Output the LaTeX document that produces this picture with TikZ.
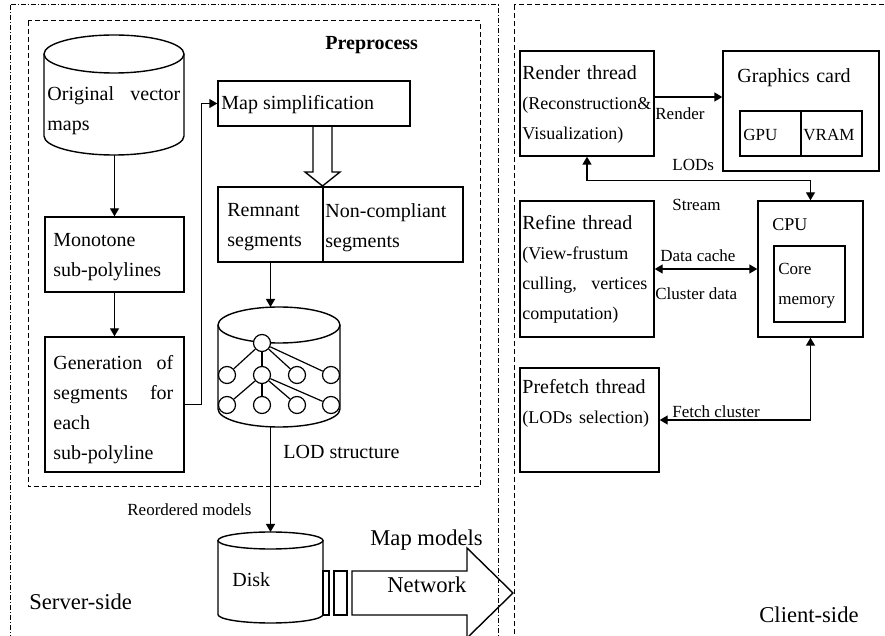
\documentclass[tikz,border=0pt]{standalone}
\usepackage{fontspec}
\setmainfont{Liberation Serif}
\usetikzlibrary{arrows.meta}

\newcommand\parsz{\fontsize{9}{15}\selectfont}

\tikzset{
  box/.style={draw, line width=0.7pt, inner sep=0pt},
  txt/.style={inner sep=0pt, anchor=north west, align=left, font=\fontsize{10}{15}\selectfont},
  lbl/.style={inner sep=0pt, anchor=west, font=\fontsize{8.5}{10}\selectfont},
  big/.style={inner sep=0pt, anchor=west, font=\fontsize{11.3}{13}\selectfont},
  conn/.style={line width=0.7pt, -{Triangle[length=4pt,width=4.5pt]}},
  both/.style={line width=0.7pt, {Triangle[length=4pt,width=4.5pt]}-{Triangle[length=4pt,width=4.5pt]}},
  tree/.style={draw, circle, fill=white, line width=0.6pt, minimum size=8.5pt, inner sep=0pt},
  dashbox/.style={line width=0.5pt, dash pattern=on 2.5pt off 1.5pt},
  dotbox/.style={line width=0.5pt, dash pattern=on 2.5pt off 1pt on 0.5pt off 1pt},
}

\begin{document}
\begin{tikzpicture}[x=0.5pt, y=-0.5pt]
  \clip (0,0) rectangle (885,636);
  \fill[white] (0,0) rectangle (885,636);

  % frames
  \draw[dotbox] (10,5) rectangle (498,660);
  \draw[dashbox] (28,21) rectangle (480,487);
  \draw[dashbox] (514,5) rectangle (900,660);
  \node[inner sep=0pt, anchor=west, font=\bfseries\fontsize{10}{12}\selectfont] (pre) at (325,45) {Preprocess};

  % server side
  \draw[line width=0.7pt] (114,54) ellipse[x radius=70, y radius=19];
  \draw[line width=0.7pt] (44,54) -- (44,136) arc[start angle=180, end angle=0, x radius=70, y radius=19] -- (184,54);
  \coordinate (orig-bot) at (114.5,155);
  \node[txt, text width=66.5pt] (orig) at (47,86) {Original \hfill vector\\maps};

  \node[box, minimum width=69.5pt, minimum height=37.5pt] (mono) at (114.5,254.5) {};
  \node[txt, text width=62pt] at (53,233) {Monotone\\sub-polylines};

  \node[box, minimum width=69.5pt, minimum height=67.5pt] (gen) at (114.5,404.5) {};
  \node[txt, text width=60pt] at (53,355) {Generation \hfill of\\segments \hfill for\\each\\sub-polyline};

  \node[box, minimum width=96pt, minimum height=22.5pt] (mapsimp) at (314,103.5) {};
  \node[inner sep=0pt, anchor=west, font=\fontsize{10}{12}\selectfont] at (221,105) {Map simplification};

  \draw[line width=0.7pt] (313,126) -- (313,172) -- (305,172) -- (322.5,186) -- (340,172) -- (332,172) -- (332,126);

  \node[box, minimum width=52.5pt, minimum height=37.5pt] (rem) at (270.5,224.5) {};
  \node[box, minimum width=70pt, minimum height=37.5pt] (noncomp) at (393,224.5) {};
  \node[txt, text width=50pt] at (227,203) {Remnant\\segments};
  \node[txt, text width=68pt] at (325,203) {Non-compliant\\segments};

  % LOD structure
  \draw[line width=0.7pt] (279,325) ellipse[x radius=61, y radius=18];
  \draw[line width=0.7pt] (218,325) -- (218,409) arc[start angle=180, end angle=0, x radius=61, y radius=18] -- (340,325);
  \coordinate (lod-top) at (270.5,307);
  \coordinate (lod-bot) at (270.5,427);
  \node[tree] (t0) at (262,343) {};
  \foreach \i/\x in {1/227,2/262,3/297,4/331} {
    \node[tree] (a\i) at (\x,375) {};
    \node[tree] (b\i) at (\x,405) {};
  }
  \foreach \i in {1,...,4} {
    \draw[line width=0.6pt] (t0) -- (a\i);
    \draw[line width=0.6pt] (a2) -- (b\i);
  }
  \node[inner sep=0pt, anchor=west, font=\fontsize{10}{12}\selectfont] at (283,452) {LOD structure};

  % disk and network
  \draw[line width=0.7pt] (270.5,540.5) ellipse[x radius=52.5, y radius=8.5];
  \draw[line width=0.7pt] (218,540.5) -- (218,614.5) arc[start angle=180, end angle=0, x radius=52.5, y radius=8.5] -- (323,540.5);
  \coordinate (disk-top) at (270.5,532);
  \node[big, font=\fontsize{10}{12}\selectfont] at (232,580) {Disk};
  \draw[line width=0.7pt] (323,571) rectangle (329,615);
  \draw[line width=0.7pt] (334,571) rectangle (347,615);
  \draw[line width=0.7pt] (352,571) -- (467,571) -- (467,548) -- (513,593) -- (467,638) -- (467,615) -- (352,615) -- cycle;
  \node[big] at (387,585) {Network};
  \node[big] at (370,540) {Map models};
  \node[lbl] at (127,510) {Reordered models};
  \node[big] at (29,602) {Server-side};

  \draw[conn] (orig-bot) -- (mono.north);
  \draw[conn] (mono.south) -- (gen.north);
  \draw[conn] (gen.east) -- ++(17,0) |- (mapsimp.west);
  \draw[conn] (rem.south) -- (lod-top);
  \draw[conn] (lod-bot) -- (disk-top);

  % client side
  \node[box, minimum width=67pt, minimum height=52.5pt] (render) at (587,103.5) {};
  \node[txt, text width=66pt] at (522,65) {Render thread\\\parsz (Reconstruction\&\\Visualization)};

  \node[box, minimum width=78pt, minimum height=60pt] (gfx) at (801,111) {};
  \node[txt, text width=60pt] at (737,68) {Graphics card};
  \node[box, minimum width=30.5pt, minimum height=22.5pt] (gpu) at (770.5,133.5) {};
  \node[box, minimum width=30.5pt, minimum height=22.5pt] (vram) at (831.5,133.5) {};
  \node[lbl] at (743,135) {GPU};
  \node[lbl] at (803,135) {VRAM};

  \node[box, minimum width=67pt, minimum height=68pt] (refine) at (587,269) {};
  \node[txt, text width=62.5pt] at (522,215) {Refine thread\\\parsz (View-frustum\\culling, \hfill vertices\\computation)};

  \node[box, minimum width=52.5pt, minimum height=68pt] (cpu) at (810.5,269) {};
  \node[txt, text width=30pt, font=\fontsize{9}{15}\selectfont] at (772,218) {CPU};
  \node[box, minimum width=35.5pt, minimum height=38pt] (core) at (809.5,284) {};
  \node[txt, text width=34pt, font=\fontsize{8.5}{15}\selectfont] at (778,263) {Core\\memory};

  \node[box, minimum width=69.5pt, minimum height=52pt] (prefetch) at (589.5,420) {};
  \node[txt, text width=68pt] at (522,379) {Prefetch thread\\\parsz (LODs selection)};

  \draw[conn] ([yshift=3.25pt]render.east) -- ([yshift=3.25pt]render.east -| gfx.west);
  \node[lbl] at (655,114) {Render};
  \draw[both] (render.south) -- ++(0,24) -| (cpu.north);
  \node[lbl] at (672,165) {LODs};
  \node[lbl] at (672,205) {Stream};
  \draw[both] (refine.east) -- (cpu.west);
  \node[lbl] at (660,256) {Data cache};
  \node[lbl] at (655,294) {Cluster data};
  \draw[both] (cpu.south) |- (prefetch.east);
  \node[lbl] at (672,412) {Fetch cluster};
  \node[big] at (759,615) {Client-side};
\end{tikzpicture}
\end{document}
